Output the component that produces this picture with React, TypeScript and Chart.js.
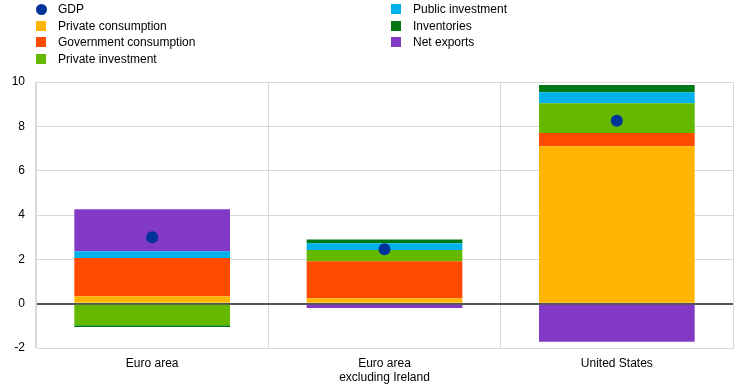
import React, { useEffect, useRef } from "react";
import { Chart, registerables } from "chart.js";

Chart.register(...registerables);

const categories: (string | string[])[] = ["Euro area", ["Euro area", "excluding Ireland"], "United States"];
const privateConsumption = [0.33, 0.24, 7.1];
const governmentConsumption = [1.73, 1.67, 0.6];
const privateInvestment = [-0.97, 0.51, 1.34];
const publicInvestment = [0.3, 0.3, 0.5];
const inventories = [-0.08, 0.18, 0.32];
const netExports = [1.9, -0.2, -1.72];
const gdp = [3.0, 2.45, 8.25];
const yTicks = [-2, 0, 2, 4, 6, 8, 10];

const FONT = 'Arial, "Liberation Sans", sans-serif';

const legendItems = [
  { label: "GDP", color: "#003399", circle: true, col: 0, row: 0 },
  { label: "Private consumption", color: "#FFB400", col: 0, row: 1 },
  { label: "Government consumption", color: "#FF4B00", col: 0, row: 2 },
  { label: "Private investment", color: "#65B800", col: 0, row: 3 },
  { label: "Public investment", color: "#00B1EA", col: 1, row: 0 },
  { label: "Inventories", color: "#007816", col: 1, row: 1 },
  { label: "Net exports", color: "#8139C6", col: 1, row: 2 },
];

export default function App() {
  const canvasRef = useRef<HTMLCanvasElement | null>(null);

  useEffect(() => {
    document.body.style.margin = "0";
    const ctx = canvasRef.current!;
    const bar = (label: string, data: number[], color: string) => ({
      type: "bar" as const,
      label,
      data,
      backgroundColor: color,
      borderWidth: 0,
      stack: "s",
      barPercentage: 0.67,
      categoryPercentage: 1,
      order: 2,
    });
    const chart = new Chart(ctx, {
      type: "bar",
      data: {
        labels: categories as any,
        datasets: [
          {
            type: "line" as const,
            label: "GDP",
            data: gdp,
            showLine: false,
            pointRadius: 6,
            pointHoverRadius: 6,
            pointBackgroundColor: "#003399",
            pointBorderWidth: 0,
            borderColor: "#003399",
            stack: "gdp",
            order: 0,
          } as any,
          bar("Private consumption", privateConsumption, "#FFB400"),
          bar("Government consumption", governmentConsumption, "#FF4B00"),
          bar("Private investment", privateInvestment, "#65B800"),
          bar("Public investment", publicInvestment, "#00B1EA"),
          bar("Inventories", inventories, "#007816"),
          bar("Net exports", netExports, "#8139C6"),
        ],
      },
      options: {
        animation: false,
        responsive: false,
        layout: { padding: { top: 82, right: 9, left: 0, bottom: 0 } },
        plugins: { legend: { display: false }, tooltip: { enabled: false } },
        scales: {
          x: {
            stacked: true,
            offset: true,
            grid: { offset: true, color: "#d9d9d9", lineWidth: 1, drawTicks: false },
            border: { display: true, color: "#d9d9d9" },
            ticks: { color: "#000", font: { family: FONT, size: 12 }, padding: 8, maxRotation: 0 },
            afterFit: (s: any) => { s.height = 40; },
          },
          y: {
            stacked: true,
            min: -2,
            max: 10,
            afterBuildTicks: (s: any) => { s.ticks = yTicks.map((v) => ({ value: v })); },
            grid: {
              color: (c: any) => (c.tick && c.tick.value === 0 ? "#555555" : "#d9d9d9"),
              lineWidth: (c: any) => (c.tick && c.tick.value === 0 ? 2 : 1),
              drawTicks: false,
            },
            border: { display: true, color: "#d9d9d9" },
            ticks: { color: "#000", font: { family: FONT, size: 12 }, padding: 11 },
            afterFit: (s: any) => { s.width = 36; },
          },
        },
      },
    });
    return () => chart.destroy();
  }, []);

  return (
    <div style={{ position: "relative", width: 742, height: 388, background: "#fff", fontFamily: FONT }}>
      <canvas ref={canvasRef} width={742} height={388} style={{ position: "absolute", left: 0, top: 0 }} />
      {legendItems.map((it) => (
        <div
          key={it.label}
          style={{
            position: "absolute",
            left: it.col === 0 ? 36 : 391,
            top: 1 + it.row * 16.7,
            height: 16,
            display: "flex",
            alignItems: "center",
            fontSize: 12,
            color: "#000",
            whiteSpace: "nowrap",
          }}
        >
          <span
            style={{
              display: "inline-block",
              width: it.circle ? 11 : 10,
              height: it.circle ? 11 : 10,
              borderRadius: it.circle ? "50%" : 0,
              background: it.color,
              marginRight: it.circle ? 11 : 12,
            }}
          />
          <span>{it.label}</span>
        </div>
      ))}
    </div>
  );
}
